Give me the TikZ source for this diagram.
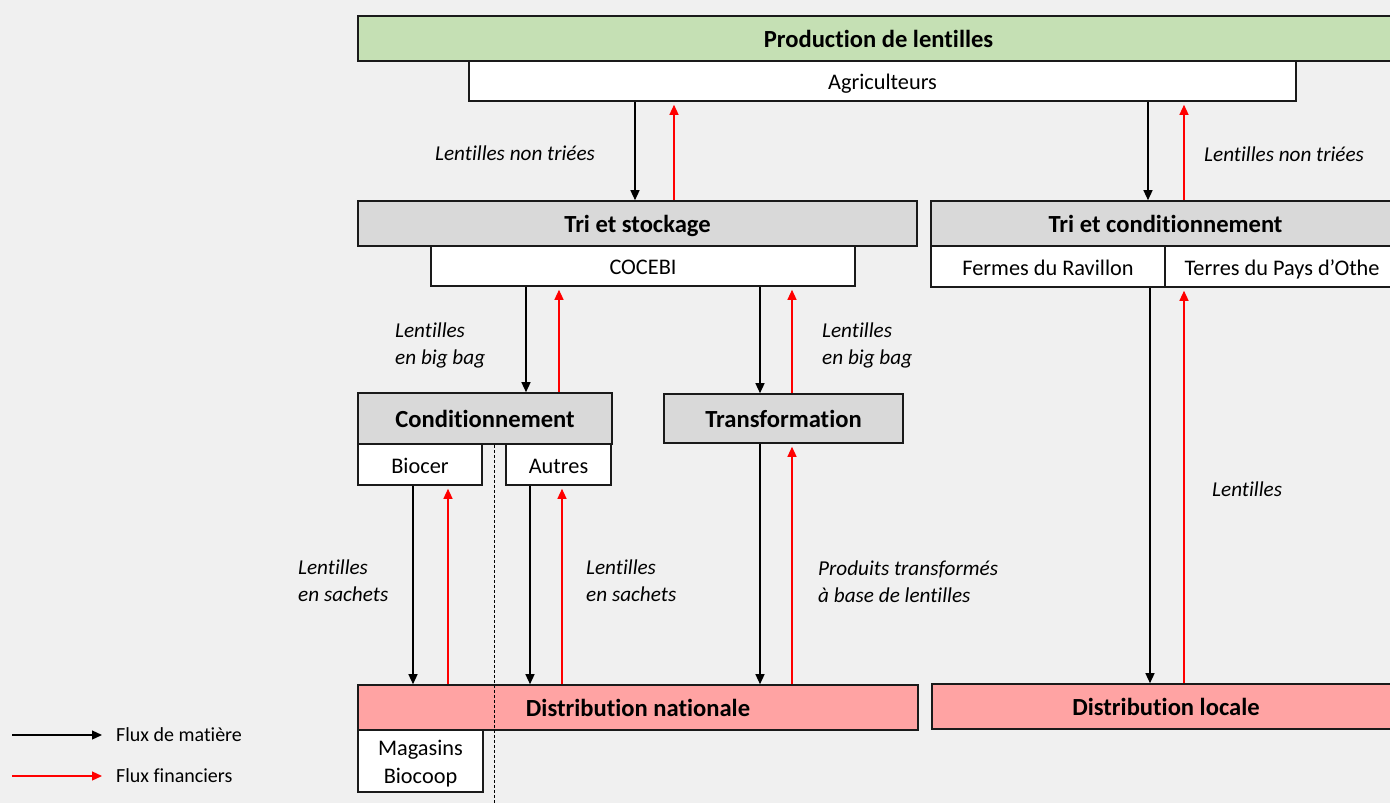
\documentclass[tikz,border=0pt]{standalone}
\usepackage{fontspec}
\setmainfont{Carlito}[Ligatures={NoCommon}]
\usetikzlibrary{arrows.meta}
\definecolor{bgc}{HTML}{F0F0F0}
\definecolor{greenc}{HTML}{C5E0B4}
\definecolor{greyc}{HTML}{D9D9D9}
\definecolor{pinkc}{HTML}{FFA3A3}
\definecolor{edgec}{HTML}{1A1A1A}
\begin{document}
\begin{tikzpicture}[x=1pt,y=-1pt,
  box/.style={draw=edgec, line width=1.6pt, inner sep=0pt, text height=20pt, text depth=2.5pt, font=\fontsize{22.3}{26}\selectfont},
  titlebox/.style={box, text height=19.5pt, text depth=2.5pt, font=\fontsize{24.6}{28}\selectfont\bfseries},
  wbox/.style={box, fill=white},
  gbox/.style={titlebox, fill=greyc},
  lab/.style={anchor=west, align=left, inner sep=0pt, font=\fontsize{21.2}{27}\selectfont\itshape},
  mat/.style={draw=black, line width=1.3pt, -{Triangle[length=10pt,width=9pt]}},
  fin/.style={draw=red, line width=1.3pt, -{Triangle[length=10pt,width=9pt]}, shorten >=3pt},
  leg/.style={anchor=west, inner sep=0pt, font=\fontsize{20}{24}\selectfont}
]
\fill[bgc] (0,0) rectangle (1390,803);
\useasboundingbox (0,0) rectangle (1390,803);
\clip (0,0) rectangle (1390,803);

% top
\node[titlebox, fill=greenc, minimum width=1041pt, minimum height=45pt] (prod) at (878.5,38.5) {Production de lentilles};
\node[wbox, minimum width=827pt, minimum height=40pt] (agri) at (882.5,81) {Agriculteurs};

% second row
\node[gbox, minimum width=559pt, minimum height=45pt] (tri) at (637.5,223.5) {Tri et stockage};
\node[wbox, minimum width=424pt, minimum height=40pt] (cocebi) at (643,266) {COCEBI};
\node[gbox, minimum width=469pt, minimum height=45pt] (tricond) at (1165.5,223.5) {Tri et conditionnement};
\node[wbox, minimum width=234pt, minimum height=41pt] (fermes) at (1048,266.5) {Fermes du Ravillon};
\node[wbox, minimum width=234pt, minimum height=41pt] (terres) at (1282,266.5) {Terres du Pays d’Othe};

% third row
\node[gbox, minimum width=254pt, minimum height=51pt] (cond) at (485,418.5) {Conditionnement};
\node[gbox, minimum width=239pt, minimum height=49pt] (transf) at (783.5,418.5) {Transformation};
\node[wbox, minimum width=124pt, minimum height=41pt] (biocer) at (420,464.5) {Biocer};
\node[wbox, minimum width=105pt, minimum height=41pt] (autres) at (558.5,464.5) {Autres};

% bottom
\node[titlebox, fill=pinkc, minimum width=560pt, minimum height=45pt] (distnat) at (638,707.5) {Distribution nationale};
\node[titlebox, fill=pinkc, minimum width=468pt, minimum height=45pt] (distloc) at (1166,706.5) {Distribution locale};
\node[draw=edgec, line width=1.6pt, fill=white, inner sep=0pt, minimum width=125pt, minimum height=62pt, align=center, font=\fontsize{22.3}{28}\selectfont] (biocoop) at (420.5,761) {\rule{0pt}{21pt}Magasins\\Biocoop};

% dashed separator
\coordinate (dashend) at (494,803);
\draw[black, line width=0.7pt, dash pattern=on 3pt off 2pt] (494,0 |- cond.south) -- (dashend);

% arrows Agriculteurs <-> Tri et stockage
\draw[mat] (635,0 |- agri.south) -- (635,0 |- tri.north);
\draw[fin] (674,0 |- tri.north) -- (674,0 |- agri.south);
\node[lab] (l1) at (435,153) {Lentilles non triées};

% arrows Agriculteurs <-> Tri et conditionnement
\draw[mat] (1148,0 |- agri.south) -- (1148,0 |- tricond.north);
\draw[fin] (1184,0 |- tricond.north) -- (1184,0 |- agri.south);
\node[lab] (l2) at (1204,154) {Lentilles non triées};

% COCEBI <-> Conditionnement
\draw[mat] (526,0 |- cocebi.south) -- (526,0 |- cond.north);
\draw[fin] (559,0 |- cond.north) -- (559,0 |- cocebi.south);
\node[lab] (l3) at (395,345) {Lentilles\\en big bag};

% COCEBI <-> Transformation
\draw[mat] (760,0 |- cocebi.south) -- (760,0 |- transf.north);
\draw[fin] (792,0 |- transf.north) -- (792,0 |- cocebi.south);
\node[lab] (l4) at (822,345) {Lentilles\\en big bag};

% Biocer <-> Distribution nationale
\draw[mat] (413,0 |- biocer.south) -- (413,0 |- distnat.north);
\draw[fin] (448,0 |- distnat.north) -- (448,0 |- biocer.south);
\node[lab] (l5) at (298,581) {Lentilles\\en sachets};

% Autres <-> Distribution nationale
\draw[mat] (530,0 |- autres.south) -- (530,0 |- distnat.north);
\draw[fin] (562,0 |- distnat.north) -- (562,0 |- autres.south);
\node[lab] (l6) at (586,581) {Lentilles\\en sachets};

% Transformation <-> Distribution nationale
\draw[mat] (760,0 |- transf.south) -- (760,0 |- distnat.north);
\draw[fin] (792,0 |- distnat.north) -- (792,0 |- transf.south);
\node[lab] (l7) at (818,582) {Produits transformés\\à base de lentilles};

% Fermes <-> Distribution locale
\draw[mat] (1150,0 |- fermes.south) -- (1150,0 |- distloc.north);
\draw[fin] (1184,0 |- distloc.north) -- (1184,0 |- terres.south);
\node[lab] (l8) at (1212,489) {Lentilles};

% legend
\coordinate (m0) at (12,735);
\coordinate (m1) at (102,735);
\coordinate (f0) at (12,776);
\coordinate (f1) at (102,776);
\draw[mat] (m0) -- (m1);
\draw[draw=red, line width=1.3pt, -{Triangle[length=10pt,width=9pt]}] (f0) -- (f1);
\node[leg] (legm) at (116,735) {Flux de matière};
\node[leg] (legf) at (116,776) {Flux financiers};
\end{tikzpicture}
\end{document}
